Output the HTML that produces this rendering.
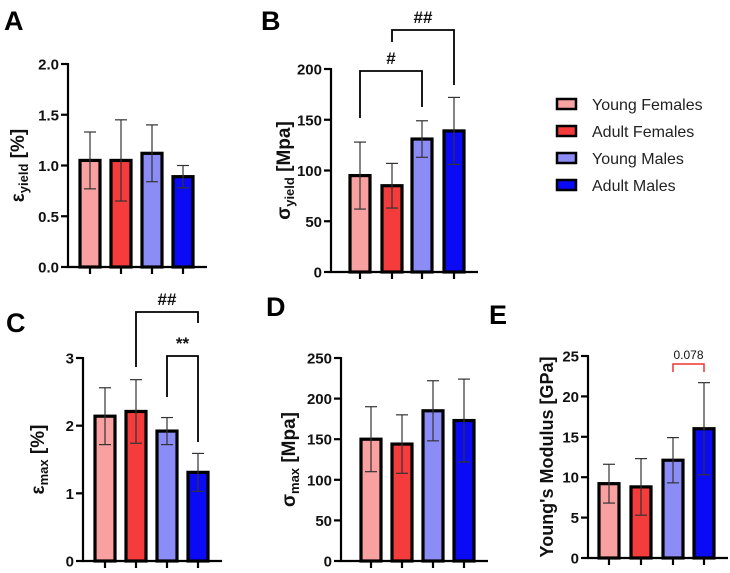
<!DOCTYPE html>
<html><head><meta charset="utf-8"><style>
html,body{margin:0;padding:0;background:#fff;width:730px;height:573px;overflow:hidden}
svg{display:block;font-family:"Liberation Sans",Arial,sans-serif}
</style></head><body>
<svg id="fig" width="730" height="573" viewBox="0 0 730 573" xmlns="http://www.w3.org/2000/svg">
<g font-size="16" fill="#222">
 <g><rect x="557" y="99" width="19" height="10" fill="#f9a0a0" stroke="#000" stroke-width="2.5"/><text x="592" y="110">Young Females</text></g>
 <g><rect x="557" y="126" width="19" height="10" fill="#f43c3c" stroke="#000" stroke-width="2.5"/><text x="592" y="137">Adult Females</text></g>
 <g><rect x="557" y="153" width="19" height="10" fill="#8c8cf6" stroke="#000" stroke-width="2.5"/><text x="592" y="164">Young Males</text></g>
 <g><rect x="557" y="180" width="19" height="10" fill="#0a0af5" stroke="#000" stroke-width="2.5"/><text x="592" y="191">Adult Males</text></g>
</g>
</svg>
<script>
const colors=["#f9a0a0","#f43c3c","#8c8cf6","#0a0af5"];
const groups=["Young Females","Adult Females","Young Males","Adult Males"];
const aMeans=[1.05,1.05,1.12,0.89];
const aSD=[0.28,0.40,0.28,0.11];
const aTicks=["0.0","0.5","1.0","1.5","2.0"];
const bMeans=[95,85,131,139];
const bSD=[33,22,18,33];
const bTicks=["0","50","100","150","200"];
const cMeans=[2.14,2.21,1.92,1.31];
const cSD=[0.42,0.47,0.20,0.28];
const cTicks=["0","1","2","3"];
const dMeans=[150,144,185,173];
const dSD=[40,36,37,51];
const dTicks=["0","50","100","150","200","250"];
const eMeans=[9.2,8.8,12.1,16.0];
const eSD=[2.4,3.5,2.8,5.7];
const eTicks=["0","5","10","15","20"," 25"];
const NS="http://www.w3.org/2000/svg";
const svg=document.getElementById('fig');
function mk(t,a,p){const e=document.createElementNS(NS,t);for(const k in a)e.setAttribute(k,a[k]);(p||svg).appendChild(e);return e;}
function panel(o){
 const g=mk('g',{});
 
 
 const max=parseFloat(o.ticks[o.ticks.length-1]);
 const y=v=>o.y0-(v/max)*(o.y0-o.y1);
 const xs=o.xs;
 const lbl=mk('text',{x:o.lx,y:o.ly,'font-size':27,'font-weight':'bold'},g);lbl.textContent=o.id;
 
 
 o.means.forEach((m,i)=>{
  const r=mk('rect',{x:xs[i]-10,y:y(m),width:20,height:o.y0-y(m),fill:colors[i],stroke:'#000','stroke-width':3.2},g);
  
  
 });
 o.means.forEach((m,i)=>{
  const s=o.sd[i],eg=mk('g',{stroke:'#333','stroke-width':1.2},g);
  
  
  mk('line',{x1:xs[i],x2:xs[i],y1:y(m+s),y2:y(m-s)},eg);
  mk('line',{x1:xs[i]-6,x2:xs[i]+6,y1:y(m+s),y2:y(m+s)},eg);
  mk('line',{x1:xs[i]-6,x2:xs[i]+6,y1:y(m-s),y2:y(m-s)},eg);
 });
 const ax=mk('g',{stroke:'#000','stroke-width':2.2,fill:'none'},g);
 
 
 mk('line',{x1:o.ax,x2:o.ax,y1:o.y1-1,y2:o.y0+1},ax);
 mk('line',{x1:o.ax-1,x2:xs[3]+24,y1:o.y0,y2:o.y0},ax);
 xs.forEach(x=>mk('line',{x1:x,x2:x,y1:o.y0,y2:o.y0+7},ax));
 o.ticks.forEach(t=>{
  const v=parseFloat(t);
  mk('line',{x1:o.ax-7,x2:o.ax,y1:y(v),y2:y(v)},ax);
  const tx=mk('text',{x:o.ax-9,y:y(v)+5.5,'font-size':15,'font-weight':'bold','text-anchor':'end',fill:'#111'},g);
  tx.textContent=t.trim();
  
  
 });
 const yl=mk('text',{transform:`translate(${o.tx},${(o.y0+o.y1)/2}) rotate(-90)`,'text-anchor':'middle','font-size':o.tfs||19,'font-weight':'bold',fill:'#111'},g);
 yl.innerHTML=o.title;
 
 
 (o.brackets||[]).forEach(b=>{
  const bg=mk('g',{},g);
  
  
  mk('path',{d:`M${xs[b.a]},${b.ya} V${b.y} H${xs[b.b]} V${b.yb}`,fill:'none',stroke:b.c||'#000','stroke-width':b.c?1.5:1.8},bg);
  const t=mk('text',{x:(xs[b.a]+xs[b.b])/2,y:b.y-(b.c?5:7),'text-anchor':'middle','font-size':b.fs||17,'font-weight':b.c?'normal':'bold',fill:'#111'},bg);
  t.textContent=b.t;
 });
}
panel({id:'A',lx:4,ly:30,ax:68,y0:267,y1:64,xs:[90,121,152,183],means:aMeans,sd:aSD,ticks:aTicks,tx:24,
 title:'ε<tspan font-size="13" dy="4">yield</tspan><tspan dy="-4"> [%]</tspan>'});
panel({id:'B',lx:261,ly:30,ax:331,y0:272,y1:69,xs:[360,392,422,454],means:bMeans,sd:bSD,ticks:bTicks,tx:290,
 title:'σ<tspan font-size="13" dy="4">yield</tspan><tspan dy="-4"> [Mpa]</tspan>',
 brackets:[{a:0,b:2,y:71,ya:118,yb:107,t:'#'},{a:1,b:3,y:30,ya:42,yb:85,t:'##'}]});
panel({id:'C',lx:6,ly:332,ax:83,y0:561,y1:358,xs:[105,136,167,198],means:cMeans,sd:cSD,ticks:cTicks,tx:44,
 title:'ε<tspan font-size="13" dy="4">max</tspan><tspan dy="-4"> [%]</tspan>'
 ,brackets:[{a:1,b:3,y:312,ya:367,yb:323,t:'##'},{a:2,b:3,y:356,ya:397,yb:442,t:'**'}]});
panel({id:'D',lx:266,ly:316,ax:341,y0:561,y1:358,xs:[371,402,433,464],means:dMeans,sd:dSD,ticks:dTicks,tx:295,
 title:'σ<tspan font-size="13" dy="4">max</tspan><tspan dy="-4"> [Mpa]</tspan>'});
panel({id:'E',lx:489,ly:324,ax:588,y0:558,y1:356,xs:[609,641,673,704],means:eMeans,sd:eSD,ticks:eTicks,tx:553,tfs:18,
 title:"Young's Modulus [GPa]",
 brackets:[{a:2,b:3,y:364,ya:372,yb:372,t:'0.078',c:'#e33',fs:12}]});
</script>
</body></html>
